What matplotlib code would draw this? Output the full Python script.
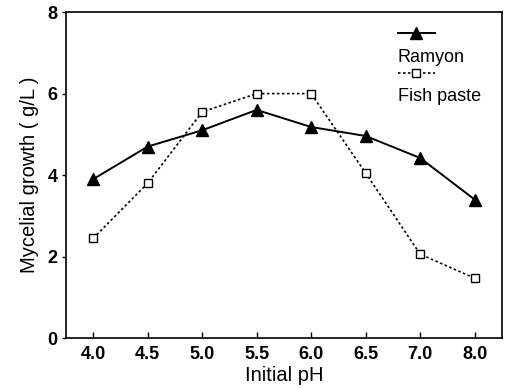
import numpy as np
import matplotlib.pyplot as plt
from matplotlib.lines import Line2D

plt.rcParams['font.family'] = ['Liberation Sans', 'DejaVu Sans']

ph_labels = ["4.0", "4.5", "5.0", "5.5", "6.0", "6.5", "7.0", "8.0"]
ramyon = [3.9, 4.7, 5.1, 5.6, 5.18, 4.96, 4.42, 3.4]
fish_paste = [2.45, 3.8, 5.55, 6.0, 6.0, 4.05, 2.06, 1.47]

x = np.arange(len(ph_labels))

fig = plt.figure(figsize=(5.07, 3.9), dpi=100)
ax = fig.add_axes([0.130, 0.133, 0.860, 0.836])

ax.plot(x, ramyon, color="black", lw=1.4, marker="^", ms=8, mfc="black", mec="black")
ax.plot(x, fish_paste, color="black", lw=1.2, ls=(0, (1.5, 1.5)), marker="s", ms=6,
        mfc="white", mec="black", mew=1.0)

ax.set_xlim(-0.5, 7.5)
ax.set_ylim(0, 8)
ax.set_xticks(x)
ax.set_xticklabels(ph_labels, fontsize=13, fontweight="bold")
ax.set_yticks([0, 2, 4, 6, 8])
ax.set_yticklabels(["0", "2", "4", "6", "8"], fontsize=13, fontweight="bold")
ax.tick_params(axis="x", direction="in", length=4, width=1, pad=6)
ax.tick_params(axis="y", direction="out", length=3, width=1, pad=3)
for s in ax.spines.values():
    s.set_linewidth(1.2)

ax.set_xlabel("Initial pH", fontsize=14.5, labelpad=2)
ax.set_ylabel("Mycelial growth ( g/L )", fontsize=14.5, labelpad=6)

# legend: handle above label
tr = ax.transAxes
ax.add_line(Line2D([0.761, 0.804, 0.846], [0.936] * 3, transform=tr, color="black",
                   lw=1.4, marker="^", ms=8, markevery=[1], mfc="black"))
ax.text(0.761, 0.862, "Ramyon", transform=tr, fontsize=13, va="center")
ax.add_line(Line2D([0.761, 0.804, 0.846], [0.813] * 3, transform=tr, color="black",
                   lw=1.2, ls=(0, (1.5, 1.5)), marker="s", ms=6, markevery=[1],
                   mfc="white", mec="black"))
ax.text(0.761, 0.742, "Fish paste", transform=tr, fontsize=13, va="center")

fig.savefig("out.png", dpi=100)
